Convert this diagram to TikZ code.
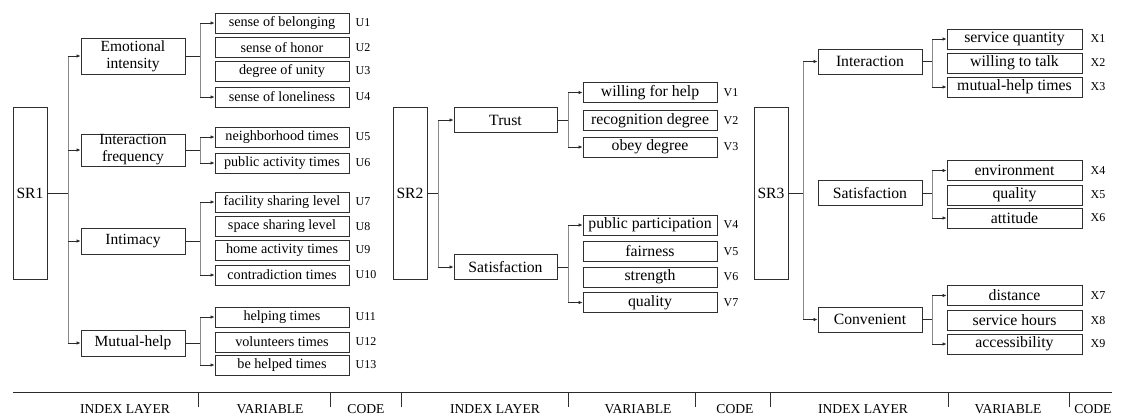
\documentclass[tikz,border=0pt]{standalone}
\usepackage{fontspec}
\setmainfont{Liberation Serif}
\newfontfamily\tnr{Liberation Serif}
\usetikzlibrary{arrows.meta}
\definecolor{boxc}{HTML}{303030}
\definecolor{stubc}{HTML}{2A2A2A}
\definecolor{trunkc}{HTML}{8A8A8A}
\tikzset{
  box/.style={draw=boxc, line width=0.9pt, inner sep=0pt, align=center, fill=white},
  rootbox/.style={box, minimum width=34pt, minimum height=172pt, font=\tnr\fontsize{15.6}{17}\selectfont},
  midA/.style={box, minimum width=104pt, font=\tnr\fontsize{15.5}{17}\selectfont},
  midB/.style={box, minimum width=103pt, minimum height=25pt, font=\tnr\fontsize{15.7}{17}\selectfont},
  leafA/.style={box, minimum width=134pt, minimum height=20pt, font=\tnr\fontsize{14.2}{15}\selectfont},
  leafB/.style={box, minimum width=134pt, minimum height=20pt, font=\tnr\fontsize{15.8}{16}\selectfont},
  codetxt/.style={anchor=west, inner sep=0pt, font=\tnr\fontsize{12}{12}\selectfont},
  foot/.style={inner sep=0pt, font=\tnr\fontsize{13.6}{14}\selectfont},
  stub/.style={draw=stubc, line width=0.9pt},
  trunk/.style={draw=trunkc, line width=1pt},
  arr/.style={draw=stubc, line width=0.9pt, -{Latex[length=4pt,width=3.6pt]}},
}
\begin{document}
\begin{tikzpicture}[x=1pt, y=-1pt]
\useasboundingbox (0,0) rectangle (1128,416);

% ---------------- first block: SR1 ----------------
\node[rootbox] (r1) at (30,193) {SR1};
\node[midA, minimum height=36pt] (a1) at (133,56) {Emotional\\intensity};
\node[midA, minimum height=32pt] (a2) at (133,150) {Interaction\\frequency};
\node[midA, minimum height=26pt] (a3) at (133,241) {Intimacy};
\node[midA, minimum height=26pt] (a4) at (133,343) {Mutual-help};

\foreach \n/\y/\t/\c in {u1/23/sense of belonging/U1, u2/47.5/sense of honor/U2,
    u3/71/degree of unity/U3, u4/97/sense of loneliness/U4,
    u5/137/neighborhood times/U5, u6/163/public activity times/U6,
    u7/202/facility sharing level/U7, u8/226.5/space sharing level/U8,
    u9/250/home activity times/U9, u10/275/contradiction times/U10,
    u11/317/helping times/U11, u12/342/volunteers times/U12,
    u13/365/be helped times/U13}{
  \node[leafA] (\n) at (282,\y) {\t};
  \node[codetxt] (c\n) at ([xshift=6pt]\n.east) {\c};
}

\coordinate (j1) at (68,193);
\draw[stub] (r1.east) -- (j1);
\draw[trunk] (j1 |- a1.west) -- (j1 |- a4.west);
\foreach \m in {a1,a2,a3,a4} \draw[arr] (j1 |- \m.west) -- (\m.west);

\foreach \m/\f/\l/\kids in {a1/u1/u4/{u1,u4}, a2/u5/u6/{u5,u6},
    a3/u7/u10/{u7,u10}, a4/u11/u13/{u11,u13}}{
  \coordinate (k\m) at ([xshift=15pt]\m.east);
  \draw[stub] (\m.east) -- (k\m);
  \draw[trunk] (k\m |- \f.west) -- (k\m |- \l.west);
  \foreach \k in \kids \draw[arr] (k\m |- \k.west) -- (\k.west);
}

% ---------------- second block: SR2 ----------------
\node[rootbox] (r2) at (410,193) {SR2};
\node[midB] (b1) at (505.5,120) {Trust};
\node[midB] (b2) at (505.5,267) {Satisfaction};

\foreach \n/\y/\t/\c in {v1/92.5/willing for help/V1, v2/120.5/recognition degree/V2,
    v3/147/obey degree/V3, v4/225/public participation/V4,
    v5/251.5/fairness/V5, v6/277/strength/V6, v7/302.5/quality/V7}{
  \node[leafB] (\n) at (650,\y) {\t};
  \node[codetxt] (c\n) at ([xshift=6pt]\n.east) {\c};
}

\coordinate (j2) at (438,193);
\draw[stub] (r2.east) -- (j2);
\draw[trunk] (j2 |- b1.west) -- (j2 |- b2.west);
\foreach \m in {b1,b2} \draw[arr] (j2 |- \m.west) -- (\m.west);

\foreach \m/\f/\l in {b1/v1/v3, b2/v4/v7}{
  \coordinate (k\m) at ([xshift=11pt]\m.east);
  \draw[stub] (\m.east) -- (k\m);
  \draw[trunk] (k\m |- \f.west) -- (k\m |- \l.west);
  \draw[arr] (k\m |- \f.west) -- (\f.west);
  \draw[arr] (k\m |- \l.west) -- (\l.west);
}

% ---------------- third block: SR3 ----------------
\node[rootbox] (r3) at (771,193) {SR3};
\node[midB, minimum width=104pt] (d1) at (870,61.5) {Interaction};
\node[midB, minimum width=104pt] (d2) at (870,193) {Satisfaction};
\node[midB, minimum width=104pt] (d3) at (870,319.5) {Convenient};

\foreach \n/\y/\t/\c in {x1/39/service quantity/X1, x2/63/willing to talk/X2,
    x3/87/mutual-help times/X3, x4/170.5/environment/X4,
    x5/195/quality/X5, x6/218/attitude/X6,
    x7/295.5/distance/X7, x8/320.5/service hours/X8, x9/344/accessibility/X9}{
  \node[leafB, minimum width=135pt] (\n) at (1014.5,\y) {\t};
  \node[codetxt] (c\n) at ([xshift=8pt]\n.east) {\c};
}

\coordinate (j3) at (803,193);
\draw[stub] (r3.east) -- (j3);
\draw[trunk] (j3 |- d1.west) -- (j3 |- d3.west);
\foreach \m in {d1,d3} \draw[arr] (j3 |- \m.west) -- (\m.west);

\foreach \m/\f/\l in {d1/x1/x3, d2/x4/x6, d3/x7/x9}{
  \coordinate (k\m) at ([xshift=10pt]\m.east);
  \draw[stub] (\m.east) -- (k\m);
  \draw[trunk] (k\m |- \f.west) -- (k\m |- \l.west);
  \draw[arr] (k\m |- \f.west) -- (\f.west);
  \draw[arr] (k\m |- \l.west) -- (\l.west);
}

% ---------------- column legend ----------------
\draw[stub] (13,392) -- (1112,392);
\foreach \x in {198,330,401,568,695,770,948,1069}
  \draw[draw=boxc, line width=0.9pt] (\x,392) -- (\x,407);
\foreach \n/\x/\t in {f1/125/INDEX LAYER, f2/270/VARIABLE, f3/366/CODE,
    f4/495/INDEX LAYER, f5/638/VARIABLE, f6/735/CODE,
    f7/863/INDEX LAYER, f8/1008/VARIABLE, f9/1093/CODE}
  \node[foot] (\n) at (\x,409) {\t};
\end{tikzpicture}
\end{document}
